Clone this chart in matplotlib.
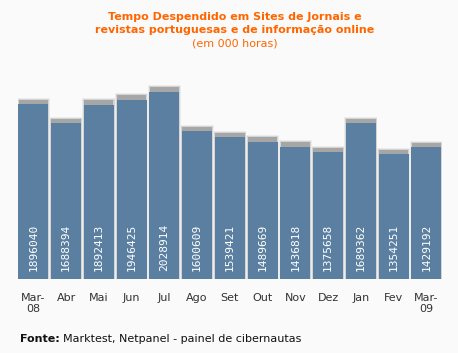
import matplotlib.pyplot as plt

months = ["Mar-\n08", "Abr", "Mai", "Jun", "Jul", "Ago", "Set", "Out", "Nov", "Dez", "Jan", "Fev", "Mar-\n09"]
hours = [1896040, 1688394, 1892413, 1946425, 2028914, 1600609, 1539421, 1489669, 1436818, 1375658, 1689362, 1354251, 1429192]

bg = "#fafafa"
bar_color = "#5a7fa0"
ymax = 2376000
px = ymax / 219  # data units per pixel
w = 0.915

fig = plt.figure(figsize=(4.58, 3.53), dpi=100, facecolor=bg)
ax = fig.add_axes([18 / 458, 74 / 353, 423.7 / 458, 219 / 353])
ax.set_facecolor(bg)

x = list(range(len(hours)))

# soft shadows behind the bars
ax.bar(x, [h + 6.5 * px for h in hours], width=w + 0.09, color="#ececec", zorder=1)
ax.bar(x, [h + 5.5 * px for h in hours], width=w + 0.05, color="#d4d4d4", zorder=1.5)
ax.bar(x, [h + 4.5 * px for h in hours], width=w - 0.02, color="#a6a6a6", zorder=2)
ax.bar(x, hours, width=w, color=bar_color, zorder=3)

for i, h in enumerate(hours):
    ax.text(i, 8 * px, str(h), rotation=90, ha="center", va="bottom",
            color="white", fontsize=8, family="DejaVu Sans Mono", zorder=4)

ax.set_xlim(-w / 2 - 0.01, len(hours) - 1 + w / 2 + 0.01)
ax.set_ylim(0, ymax)
ax.set_yticks([])
ax.set_xticks(x)
ax.set_xticklabels(months, fontsize=8, color="#333333", linespacing=1.2)
ax.tick_params(axis="x", length=0, pad=10)
for s in ax.spines.values():
    s.set_visible(False)

title_lines = ["Tempo Despendido em Sites de Jornais e",
               "revistas portuguesas e de informação online"]
for k, line in enumerate(title_lines):
    fig.text(234.5 / 458, 1 - (17 + 13 * k) / 353, line, ha="center", va="center",
             color="#ff6600", fontsize=8, fontweight="bold")
fig.text(234.5 / 458, 1 - 43 / 353, "(em 000 horas)", ha="center", va="center",
         color="#ff6600", fontsize=8)

fig.text(20 / 458, 1 - 339 / 353, "Fonte:", ha="left", va="center",
         fontsize=8, fontweight="bold", color="#111111")
fig.text(63 / 458, 1 - 339 / 353, "Marktest, Netpanel - painel de cibernautas", ha="left", va="center",
         fontsize=8, color="#111111")

fig.savefig("out.png", dpi=100, facecolor=bg)
